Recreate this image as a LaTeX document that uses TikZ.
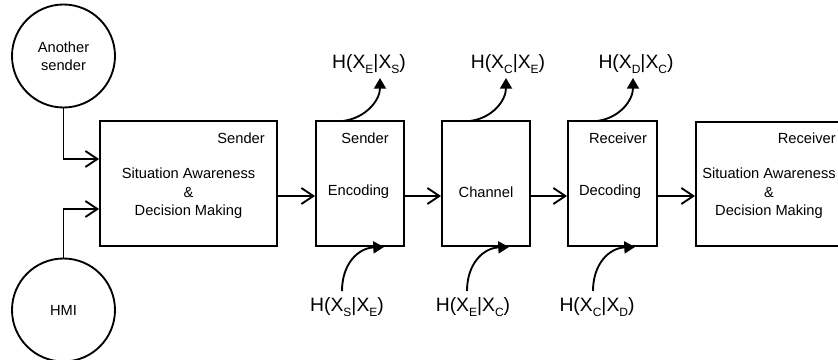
\documentclass[tikz,border=0pt]{standalone}
\usepackage{fontspec}
\setmainfont{Liberation Sans}
\usetikzlibrary{arrows.meta}

% entropy label: H(X_a|X_b) with lowered small subscripts
\newcommand{\entsub}[1]{\raisebox{-0.5ex}{\fontsize{9}{9}\selectfont #1}}
\newcommand{\Hent}[2]{H(X\entsub{#1}|X\entsub{#2})}

\tikzset{
  blk/.style={draw, line width=1.4pt, rectangle, inner sep=0pt},
  src/.style={draw, line width=1.4pt, circle, inner sep=0pt,
              minimum size=103*0.75pt, align=center,
              font=\fontsize{11}{13.5}\selectfont},
  txt/.style={inner sep=0pt, align=center, font=\fontsize{11}{13.9}\selectfont},
  ent/.style={inner sep=0pt, font=\fontsize{14.5}{16}\selectfont},
  conn/.style={line width=1.4pt, line join=miter,
               -{Straight Barb[length=9pt,width=12pt,line width=1.4pt]}},
  info/.style={line width=1.4pt, -{Triangle[length=8pt,width=9pt]}}
}

\begin{document}
\begin{tikzpicture}[x=0.75pt, y=-0.75pt]
\useasboundingbox (0,0) rectangle (838,360);
\clip (0,0) rectangle (838,360);

% sources on the left
\node[src] (other) at (63.5,56) {Another\\sender};
\node[src] (hmi) at (63.5,310) {HMI};

% processing chain
\node[blk, minimum width=177*0.75pt, minimum height=125*0.75pt] (sa)   at (188.5,183.5) {};
\node[blk, minimum width=88*0.75pt,  minimum height=125*0.75pt] (enc)  at (360,183.5) {};
\node[blk, minimum width=88*0.75pt,  minimum height=125*0.75pt] (chan) at (486,183.5) {};
\node[blk, minimum width=89*0.75pt,  minimum height=125*0.75pt] (dec)  at (612.5,183.5) {};
\node[blk, minimum width=146*0.75pt, minimum height=124*0.75pt] (rsa)  at (769,184) {};

% box texts
\node[txt, anchor=east] (saRole) at (265,138) {Sender};
\node[txt] (saText) at (188.5,193.5) {Situation Awareness\\\&\\Decision Making};
\node[txt] (encRole) at (365,138) {Sender};
\node[txt] (encText) at (358.5,192) {Encoding};
\node[txt] (chanText) at (486,192) {Channel};
\node[txt] (decRole) at (618,138) {Receiver};
\node[txt] (decText) at (610,192) {Decoding};
\node[txt, anchor=east] (rsaRole) at (836,138) {Receiver};
\node[txt] (rsaText) at (769,193.5) {Situation Awareness\\\&\\Decision Making};

% inputs into the sender decision block
\coordinate (rowA) at (0,159);
\coordinate (rowB) at (0,209);
\draw[conn] (other.south) |- (sa.west |- rowA);
\draw[conn] (hmi.north) |- (sa.west |- rowB);

% main signal path
\coordinate (rowM) at (0,196);
\draw[conn] (sa.east |- rowM) -- (enc.west |- rowM);
\draw[conn] (enc.east |- rowM) -- (chan.west |- rowM);
\draw[conn] (chan.east |- rowM) -- (dec.west |- rowM);
\draw[conn] (dec.east |- rowM) -- (rsa.west |- rowM);

% entropy labels above
\node[ent] (hTop1) at (369,64) {\Hent{E}{S}};
\node[ent] (hTop2) at (508,64) {\Hent{C}{E}};
\node[ent] (hTop3) at (636,64) {\Hent{D}{C}};

% entropy labels below
\node[ent] (hBot1) at (347,307) {\Hent{S}{E}};
\node[ent] (hBot2) at (473,307) {\Hent{E}{C}};
\node[ent] (hBot3) at (597,307) {\Hent{C}{D}};

% outgoing uncertainty (box top -> label)
\coordinate (encOut) at (343,121);
\coordinate (chanOut) at (470,121);
\coordinate (decOut) at (597,121);
\coordinate (tip1) at (380,78);
\coordinate (tip2) at (506,78);
\coordinate (tip3) at (633,78);
\draw[info] (encOut) .. controls (366,118) and (380,100) .. (tip1);
\draw[info] (chanOut) .. controls (493,118) and (506,100) .. (tip2);
\draw[info] (decOut) .. controls (620,118) and (633,100) .. (tip3);

% incoming uncertainty (label -> box bottom)
\coordinate (src1) at (342,291);
\coordinate (src2) at (467,291);
\coordinate (src3) at (593,291);
\coordinate (encIn) at (384,247);
\coordinate (chanIn) at (509,247);
\coordinate (decIn) at (635,247);
\draw[info] (src1) .. controls (342,264) and (358,248) .. (encIn);
\draw[info] (src2) .. controls (467,264) and (483,248) .. (chanIn);
\draw[info] (src3) .. controls (593,264) and (609,248) .. (decIn);
\end{tikzpicture}
\end{document}
